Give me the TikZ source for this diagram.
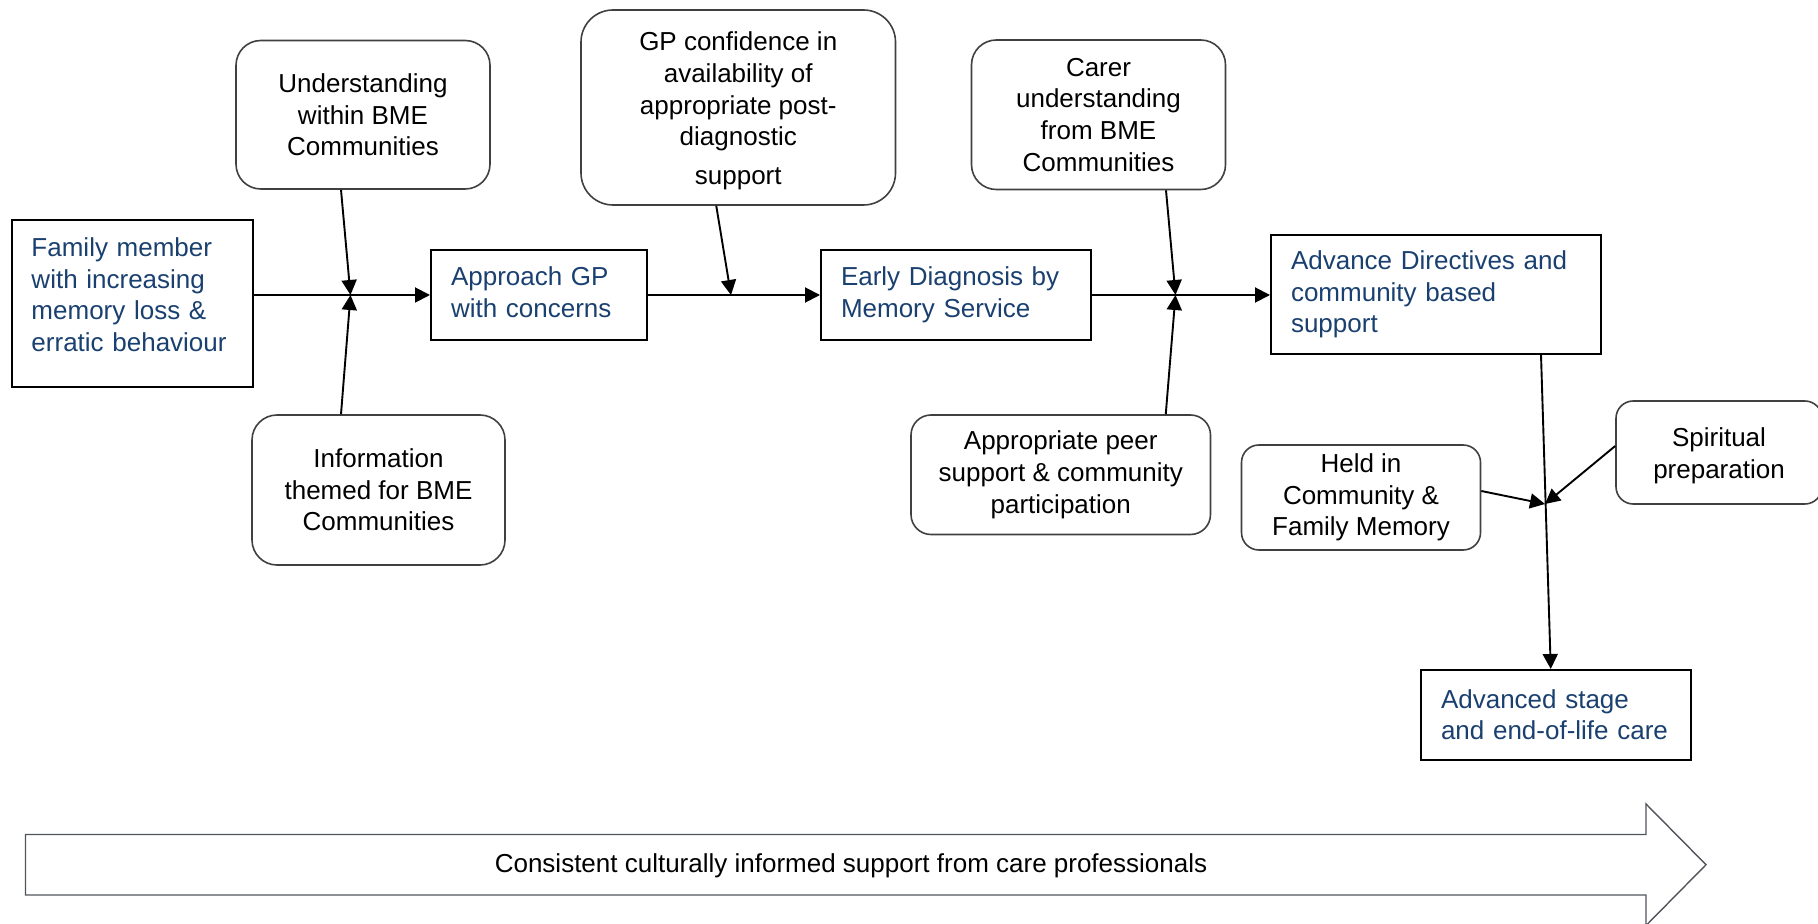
\documentclass[tikz,border=0pt]{standalone}
\usepackage{fontspec}
\setmainfont{Liberation Sans}
\usetikzlibrary{arrows.meta,calc}
\definecolor{txtblue}{RGB}{26,64,112}
\definecolor{boxgray}{RGB}{64,64,64}
\definecolor{arrgray}{RGB}{80,84,90}
\begin{document}
\begin{tikzpicture}[x=0.5pt,y=-0.5pt,
  every node/.style={font=\fontsize{13}{15.8}\selectfont},
  mainbox/.style={draw=black,line width=1pt,text=txtblue,align=left,inner xsep=10pt,inner ysep=0pt},
  sidebox/.style={draw=boxgray,line width=0.8pt,align=center,inner sep=0pt,text=black},
  conn/.style={line width=0.95pt,-{Triangle[length=7.5pt,width=7.5pt]}},
  bigarrow/.style={draw=arrgray,line width=0.7pt}
]
\useasboundingbox (0,0) rectangle (1818,924);

% main flow boxes
\node[mainbox,text width=100.5pt,minimum height=83.75pt] (fam) at (132,303.75)
  {Family member\\with increasing\\memory loss \&\\erratic behaviour\\[-6.5pt]\mbox{}};
\node[mainbox,text width=87.75pt,minimum height=45pt] (appr) at (538.75,295)
  {Approach GP\\with concerns\\[-12.8pt]\mbox{}};
\node[mainbox,text width=114.75pt,minimum height=45pt] (early) at (955.75,295)
  {Early Diagnosis by\\Memory Service};
\node[mainbox,text width=145pt,minimum height=59.5pt] (adv) at (1436,294.5)
  {Advance Directives and\\community based\\support};
\node[mainbox,text width=114.75pt,minimum height=44.75pt] (late) at (1555.75,714.75)
  {Advanced stage\\and end-of-life care};

% side influences
\node[sidebox,rounded corners=12.4pt,minimum width=127pt,minimum height=74.25pt] (und) at (363,114.75)
  {Understanding\\within BME\\Communities};
\node[sidebox,rounded corners=12.5pt,minimum width=126.5pt,minimum height=75pt] (info) at (378.5,490)
  {Information\\themed for BME\\Communities};
\node[sidebox,rounded corners=16pt,minimum width=157.25pt,minimum height=97.5pt] (gpc) at (738.25,107.5)
  {\mbox{}\\[-2.9pt]GP confidence in\\availability of\\appropriate post-\\diagnostic\\[3.6pt]support};
\node[sidebox,rounded corners=12.4pt,minimum width=127pt,minimum height=74.75pt] (carer) at (1098.5,114.75)
  {Carer\\understanding\\from BME\\Communities};
\node[sidebox,rounded corners=10pt,minimum width=149.75pt,minimum height=59.75pt] (peer) at (1060.75,474.75)
  {Appropriate peer\\support \& community\\participation};
\node[sidebox,rounded corners=8.7pt,minimum width=119.5pt,minimum height=52.5pt] (held) at (1361,497.5)
  {Held in\\Community \&\\Family Memory};
\node[sidebox,rounded corners=8.6pt,minimum width=103pt,minimum height=51.5pt] (spir) at (1719,452.5)
  {\mbox{}\\[-2.9pt]Spiritual\\preparation};

% junction points
\coordinate (j1) at (350.5,295);
\coordinate (j2) at (731,295);
\coordinate (j3) at (1175.5,295);
\coordinate (j4) at (1545,504);

% connectors
\draw[conn] (fam.east |- j1) -- (appr.west);
\draw[conn] ($(und.south)+(-22,0)$) -- (j1);
\draw[conn] ($(info.north)+(-37.5,0)$) -- (j1);
\draw[conn] (appr.east) -- (early.west);
\draw[conn] ($(gpc.south)+(-22,0)$) -- (j2);
\draw[conn] (early.east) -- (early.east -| adv.west);
\draw[conn] ($(carer.south)+(67.5,0)$) -- (j3);
\draw[conn] ($(peer.north)+(105,0)$) -- (j3);
\draw[conn] ($(adv.south)+(105,0)$) -- ($(late.north)+(-5,0)$);
\draw[conn] ($(held.east)+(0,-6.5)$) -- (j4);
\draw[conn] ($(spir.west)+(0,-6.5)$) -- (j4);

% big arrow along the bottom
\draw[bigarrow] (25.5,834.5) -- (1646,834.5) -- (1646,804) -- (1706,864.7)
  -- (1646,925.5) -- (1646,895) -- (25.5,895) -- cycle;
\node (bigtxt) at (851,866) {Consistent culturally informed support from care professionals};
\end{tikzpicture}
\end{document}
